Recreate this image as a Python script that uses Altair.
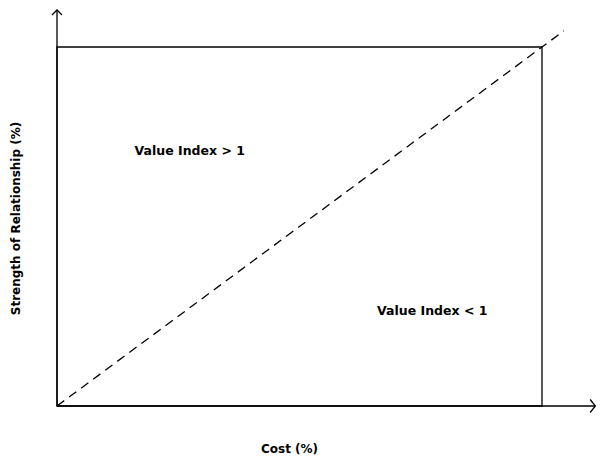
import altair as alt
import pandas as pd

# Data (in chart units; the box spans 0..100 on both axes)
box_x = [0]
box_x2 = [100]
box_y = [0]
box_y2 = [100]

axis_x_end = 111.0
axis_y_end = 110.3

diag_x = [0, 104.5]
diag_y = [0, 104.5]

label_text = ["Value Index > 1", "Value Index < 1"]
label_x = [16, 66]
label_y = [71, 26.5]

x_title = "Cost (%)"
y_title = "Strength of Relationship (%)"

FONT = "DejaVu Sans"
FS = 12.5
TFS = 12

xs = alt.Scale(domain=[0, 540 / 4.85], nice=False, zero=False)
ys = alt.Scale(domain=[0, 398 / 3.59], nice=False, zero=False)

box_df = pd.DataFrame({"x": box_x, "x2": box_x2, "y": box_y, "y2": box_y2})
diag_df = pd.DataFrame({"x": diag_x, "y": diag_y})
xaxis_df = pd.DataFrame({"x": [0], "x2": [axis_x_end], "y": [0]})
yaxis_df = pd.DataFrame({"x": [0], "y": [0], "y2": [axis_y_end]})
arrow_r_df = pd.DataFrame({"x": [axis_x_end], "y": [0]})
arrow_u_df = pd.DataFrame({"x": [0], "y": [axis_y_end]})
lab_df = pd.DataFrame({"t": label_text, "x": label_x, "y": label_y})

base_x_axis = alt.Axis(domain=False, ticks=False, labels=False, grid=False,
                       title=x_title, titleFont=FONT, titleFontSize=TFS,
                       titleFontWeight="bold", titleColor="black",
                       titleX=232, titleY=42, titleBaseline="middle")
base_y_axis = alt.Axis(domain=False, ticks=False, labels=False, grid=False,
                       title=y_title, titleFont=FONT, titleFontSize=TFS,
                       titleFontWeight="bold", titleColor="black",
                       titleX=-42, titleY=210, titleBaseline="middle",
                       titleAngle=270)

box = alt.Chart(box_df).mark_rect(fill=None, stroke="black", strokeWidth=1.3).encode(
    x=alt.X("x:Q", scale=xs, axis=base_x_axis),
    x2="x2:Q",
    y=alt.Y("y:Q", scale=ys, axis=base_y_axis),
    y2="y2:Q",
)

diag = alt.Chart(diag_df).mark_line(color="black", strokeWidth=1.3, strokeDash=[9, 6]).encode(
    x=alt.X("x:Q", scale=xs), y=alt.Y("y:Q", scale=ys)
)

xaxis = alt.Chart(xaxis_df).mark_rule(color="black", strokeWidth=1.3).encode(
    x=alt.X("x:Q", scale=xs), x2="x2:Q", y=alt.Y("y:Q", scale=ys)
)
yaxis = alt.Chart(yaxis_df).mark_rule(color="black", strokeWidth=1.3).encode(
    x=alt.X("x:Q", scale=xs), y=alt.Y("y:Q", scale=ys), y2="y2:Q"
)

arrow_r = alt.Chart(arrow_r_df).mark_point(
    shape="M-0.8,-1L0,0L-0.8,1", filled=False, stroke="black", strokeWidth=1.3,
    size=169, opacity=1, clip=False
).encode(x=alt.X("x:Q", scale=xs), y=alt.Y("y:Q", scale=ys))

arrow_u = alt.Chart(arrow_u_df).mark_point(
    shape="M-1,1L0,0L1,1", filled=False, stroke="black", strokeWidth=1.3,
    size=100, opacity=1, clip=False
).encode(x=alt.X("x:Q", scale=xs), y=alt.Y("y:Q", scale=ys))

labels = alt.Chart(lab_df).mark_text(
    align="left", baseline="middle", font=FONT, fontSize=FS, fontWeight="bold", color="black"
).encode(x=alt.X("x:Q", scale=xs), y=alt.Y("y:Q", scale=ys), text="t:N")

chart = alt.layer(box, diag, xaxis, yaxis, arrow_r, arrow_u, labels).properties(
    width=540, height=398,
    padding={"left": 49, "top": 0, "right": 0, "bottom": 49},
    autosize="none",
).configure_view(stroke=None)

chart.save("out.html", embed_options={"renderer": "svg", "actions": False})
